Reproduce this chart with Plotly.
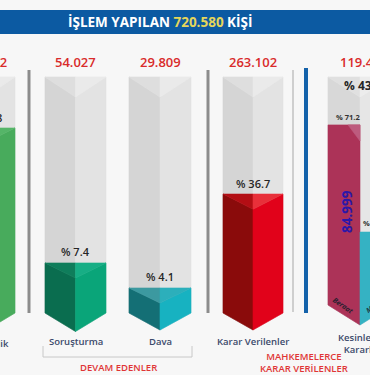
import plotly.graph_objects as go

# ---------------- data ----------------
total_label = "720.580"
categories = ["Takipsizlik", "Soruşturma", "Dava", "Karar Verilenler", "Kesinleşen<br>Kararlar"]
count_labels = ["373.642", "54.027", "29.809", "263.102", "119.438"]
percent_labels = ["% 51.8", "% 7.4", "% 4.1", "% 36.7", "% 43,6"]
fill_levels = [78.4, 21.2, 10.6, 50.4]          # coloured height of each column (0-100 scale)
final_parts = ["Beraat", "Mahkumiyet"]
final_counts = ["84.999", "34.439"]
final_percent_labels = ["% 71.2", "% 28.8"]
final_levels = [79.7, 34.3]
group_labels = ["DEVAM EDENLER", "MAHKEMELERCE<br>KARAR VERİLENLER"]

# ---------------- layout / style ----------------
W, H = 370, 375
BASE_PX, PX_PER = 313.0, 2.36
FONT = "Open Sans"


def lev(py):
    return (BASE_PX - py) / PX_PER


def pp(py):
    return 1 - py / H


centers = [-15, 75.5, 160, 253, 360]
half_w = [30, 30.5, 31, 30, 32]
bases = [0, 0, 0, 0, lev(305)]
tips = [lev(331), lev(331.5), lev(330), lev(330), lev(325)]
TOP = 100
CAP_TOP = 8.5
CAP_FILL = 6.4

gray = dict(l="#d5d5d5", r="#e3e3e3", cl="#dedede", cr="#eaeaea")
fills = [
    dict(l="#3f9a50", r="#48ab5c", cl="#4aa65b", cr="#55b568"),
    dict(l="#0a6d4f", r="#0aa579", cl="#0f7d5b", cr="#17ae85"),
    dict(l="#146f75", r="#17b2c1", cl="#3c99a0", cr="#2cafbb"),
    dict(l="#8a0b0b", r="#e1021a", cl="#b30e14", cr="#e8303a"),
]
MAROON, MAROON_L = "#ac3358", "#bd5b7e"
TEAL_R = "#35b2c3"

fig = go.Figure()


def poly(xs, ys, color):
    fig.add_trace(go.Scatter(
        x=xs + [xs[0]], y=ys + [ys[0]], mode="lines", fill="toself",
        fillcolor=color, line=dict(color=color, width=0.6),
        hoverinfo="skip", showlegend=False))


def prism(cx, hw, top, base, tip, cap, c):
    poly([cx - hw, cx, cx, cx - hw], [top, top - cap, tip, base], c["l"])
    poly([cx, cx + hw, cx + hw, cx], [top - cap, top, base, tip], c["r"])
    poly([cx - hw, cx, cx], [top, top, top - cap], c["cl"])
    poly([cx, cx + hw, cx], [top, top, top - cap], c["cr"])


# main columns
for i in range(4):
    cx, hw = centers[i], half_w[i]
    prism(cx, hw, TOP, bases[i], tips[i], CAP_TOP, gray)
    prism(cx, hw, fill_levels[i], bases[i], tips[i], CAP_FILL, fills[i])

# final (split) column
cx, hw, b, t = centers[4], half_w[4], bases[4], tips[4]
prism(cx, hw, TOP, b, t, CAP_TOP, dict(l="#d8d8d8", r="#e6e6e6", cl="#e0e0e0", cr="#ececec"))
L1, L2 = final_levels
poly([cx - hw, cx, cx, cx - hw], [L1, L1, t, b], MAROON)
poly([cx - 12, cx, cx], [L1, L1, L1 - 6.8], MAROON_L)
poly([cx, cx + hw, cx + hw, cx], [L2, L2, b, t], TEAL_R)

# ---------------- decorations ----------------
shapes = [
    dict(type="rect", xref="paper", yref="paper", x0=0, x1=1, y0=pp(34), y1=pp(10),
         fillcolor="#0c5aa2", line=dict(width=0), layer="below"),
    dict(type="line", xref="x", yref="paper", x0=29, x1=29, y0=pp(70), y1=pp(313),
         line=dict(color="#8c8c8c", width=3)),
    dict(type="line", xref="x", yref="paper", x0=208, x1=208, y0=pp(70), y1=pp(313),
         line=dict(color="#8c8c8c", width=3)),
    dict(type="line", xref="x", yref="paper", x0=293, x1=293, y0=pp(70), y1=pp(312),
         line=dict(color="#cfcfcf", width=2)),
    dict(type="line", xref="x", yref="paper", x0=306, x1=306, y0=pp(68), y1=pp(313),
         line=dict(color="#1462aa", width=4)),
    dict(type="path", xref="x", yref="paper",
         path=f"M 43 {pp(346)} L 43 {pp(357)} L 192 {pp(357)} L 192 {pp(346)}",
         line=dict(color="#c8c8c8", width=1)),
]

ann = []


def txt(x, py, text, size, color, weight="normal", xanchor="center", yanchor="middle",
        angle=0, style="normal", yref="y"):
    ann.append(dict(x=x, y=lev(py) if yref == "y" else pp(py), xref="x", yref=yref, text=text,
                    showarrow=False, xanchor=xanchor, yanchor=yanchor, textangle=angle,
                    font=dict(family=FONT, size=size, color=color, weight=weight, style=style)))


RED = "#d92b2b"
LAB = "#3b4a6b"
DARK = "#262626"

txt(160, 22, f"İŞLEM YAPILAN <span style='color:#e6d65a'>{total_label}</span> KİŞİ",
    13.5, "white", weight="bold", yref="paper")

# counts on top
txt(9, 62, count_labels[0], 13, RED, weight=600, xanchor="right")
for i in (1, 2, 3):
    txt(centers[i], 62, count_labels[i], 13, RED, weight=600)
txt(338, 62, count_labels[4], 13, RED, weight=600, xanchor="left")

# percent labels above fills
txt(3.5, BASE_PX - fill_levels[0] * PX_PER - 10, percent_labels[0], 11, DARK, weight=600, xanchor="right")
for i in (1, 2, 3):
    txt(centers[i], BASE_PX - fill_levels[i] * PX_PER - 11, percent_labels[i], 11, DARK, weight=600)
txt(342, 85, percent_labels[4], 12, DARK, weight="bold", xanchor="left")

# category labels
txt(10.5, 343, categories[0], 9.5, LAB, weight=600, xanchor="right")
for i in (1, 2, 3):
    txt(centers[i], 341, categories[i], 9.5, LAB, weight=600)
txt(362, 343, categories[4], 9.5, LAB, weight=600)

# final column details
txt(348, BASE_PX - L1 * PX_PER - 8, final_percent_labels[0], 7.5, "#333333", weight="bold")
txt(361, BASE_PX - L2 * PX_PER - 9, final_percent_labels[1], 7.5, "#333333", weight="bold", xanchor="left")
txt(347, 212, final_counts[0], 13.5, "#2b17a8", weight="bold", angle=-90)
txt(378, 250, final_counts[1], 13.5, "#2b17a8", weight="bold", angle=-90)
txt(343, 305, final_parts[0], 7, "#2a2030", weight="bold", angle=35, style="italic")
txt(361, 318, final_parts[1], 7, "#1c3b48", weight="bold", angle=-35, style="italic",
    xanchor="left", yanchor="bottom")

# group labels
txt(118, 367, group_labels[0], 9.5, "#e03535", weight=600)
txt(304, 362, group_labels[1], 9.5, "#e03535", weight=600)

fig.update_layout(
    width=W, height=H, autosize=False,
    margin=dict(l=0, r=0, t=0, b=0),
    paper_bgcolor="#f7f7f7", plot_bgcolor="#f7f7f7",
    xaxis=dict(range=[0, W], visible=False, fixedrange=True),
    yaxis=dict(range=[lev(H), lev(0)], visible=False, fixedrange=True),
    shapes=shapes, annotations=ann, showlegend=False,
)

fig.write_html("out.html", config={"displayModeBar": False})
